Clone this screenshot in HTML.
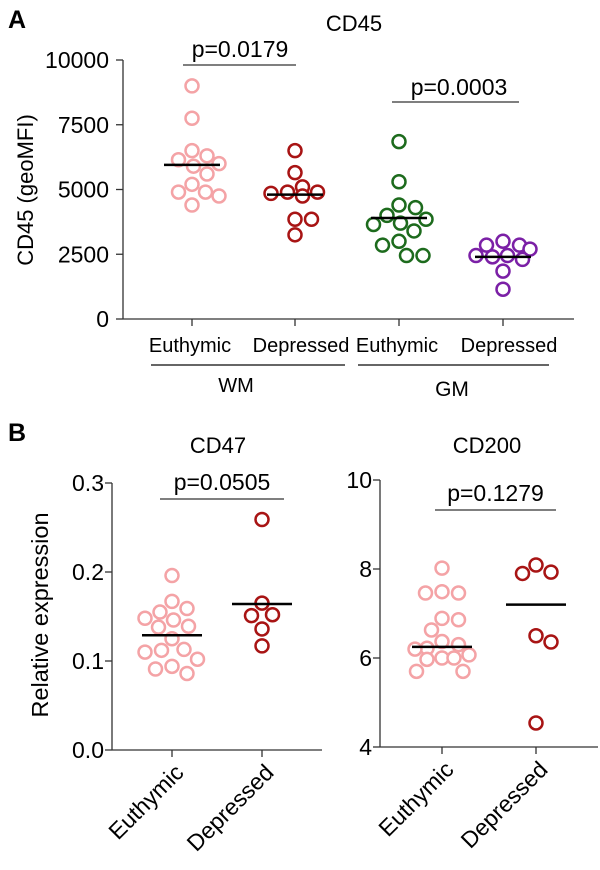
<!DOCTYPE html>
<html><head><meta charset="utf-8"><style>
html,body{margin:0;padding:0;background:#fff;}
svg{display:block;font-family:"Liberation Sans",Arial,sans-serif;}
</style></head><body>
<svg id="fig" width="600" height="870" viewBox="0 0 600 870" xmlns="http://www.w3.org/2000/svg"></svg>
<script>
// Panel A data (CD45 geoMFI)
const aCategories = ["Euthymic","Depressed","Euthymic","Depressed"];
const aGroups = ["WM","GM"];
const aTicks = [0,2500,5000,7500,10000];
const aWMEuthymic = [9000,7750,6500,6300,6150,6000,5900,5600,5200,4900,4900,4750,4400];
const aWMDepressed = [6500,5650,5100,4900,4900,4850,4750,3850,3850,3250];
const aGMEuthymic = [6850,5300,4400,4300,4000,3850,3700,3650,3400,3000,2850,2450,2450];
const aGMDepressed = [3000,2850,2850,2700,2450,2450,2400,2300,1850,1150];
const aMedians = [5950,4800,3900,2400];
const aPValues = ["p=0.0179","p=0.0003"];
// Panel B data
const bCategories = ["Euthymic","Depressed"];
const cd47Ticks = [0.0,0.1,0.2,0.3];
const cd47Euthymic = [0.196,0.167,0.159,0.155,0.148,0.146,0.139,0.138,0.125,0.113,0.112,0.110,0.102,0.094,0.091,0.086];
const cd47Depressed = [0.259,0.165,0.152,0.151,0.136,0.117];
const cd47Medians = [0.129,0.164];
const cd200Ticks = [4,6,8,10];
const cd200Euthymic = [8.02,7.49,7.46,7.46,6.89,6.86,6.63,6.37,6.30,6.22,6.20,6.07,6.00,6.00,5.97,5.70,5.70];
const cd200Depressed = [8.09,7.93,7.90,6.50,6.36,4.54];
const cd200Medians = [6.25,7.2];
const pvalB = ["p=0.0505","p=0.1279"];

const NS="http://www.w3.org/2000/svg";
const svg=document.getElementById('fig');
function mk(tag,attrs,parent){const e=document.createElementNS(NS,tag);for(const k in attrs)e.setAttribute(k,attrs[k]);(parent||svg).appendChild(e);return e;}
function txt(s,attrs,parent){const e=mk('text',attrs,parent);e.textContent=s;return e;}
const PINK="#f4a3a6",DRED="#a81414",GREEN="#1d6b1d",PURPLE="#7b20a6";
const R=6.5;
const GAP=15.5;
const MAXW=28;

function swarm(vals,cx,yf,color,name){
  const placed=[];
  const sorted=vals.slice().sort((a,b)=>b-a);
  sorted.forEach(v=>{
    const y=yf(v);let best=null,bestPen=1e9,bestDx=0;
    const cands=[0];for(let k=1;k*1.5<=MAXW;k++){cands.push(k*1.5,-k*1.5);}
    for(const dx of cands){
      let pen=0;
      for(const p of placed){const ddx=dx-p.dx,ddy=y-p.y;const d=Math.sqrt(ddx*ddx+ddy*ddy);if(d<GAP)pen+=GAP-d;}
      if(pen===0){best=dx;break;}
      if(pen<bestPen){bestPen=pen;bestDx=dx;}
    }
    if(best===null)best=bestDx;
    placed.push({dx:best,y:y});
    const c=mk('circle',{cx:cx+best,cy:y,r:R,fill:'#fff',stroke:color,'stroke-width':2.5});
    
    
  });
}
function median(cx,y,hw,name){
  const l=mk('line',{x1:cx-hw,x2:cx+hw,y1:y,y2:y,stroke:'#000','stroke-width':2.5});
  
  
}

// ---------- Panel A ----------
txt('A',{x:8,y:28,'font-size':25,'font-weight':'bold',});
txt('CD45',{x:354,y:31,'font-size':22,'text-anchor':'middle',});
const aX0=123,aX1=574,aY0=319,aY1=60;
const ay=v=>aY0-(v-0)/(10000-0)*(aY0-aY1);
const aCx=[192,295,399,503];
mk('line',{x1:aX0,x2:aX0,y1:aY1,y2:aY0,stroke:'#333','stroke-width':1.3,});
mk('line',{x1:aX0,x2:aX1,y1:aY0,y2:aY0,stroke:'#333','stroke-width':1.3,});
aTicks.forEach(t=>{
  const y=ay(t);
  const l=mk('line',{x1:aX0-7,x2:aX0,y1:y,y2:y,stroke:'#333','stroke-width':1.3});
  
  const tl=txt(String(t),{x:aX0-14,y:y+8,'font-size':23,'text-anchor':'end'});
  
});
txt('CD45 (geoMFI)',{x:0,y:0,'font-size':22,'text-anchor':'middle',transform:'translate(33,190) rotate(-90)',});
aCategories.forEach((c,i)=>{
  const l=mk('line',{x1:aCx[i],x2:aCx[i],y1:aY0,y2:aY0+7,stroke:'#333','stroke-width':1.3});
  
  const t=txt(c,{x:aCx[i]+(i%2?6:-2),y:352,'font-size':20,'text-anchor':'middle'});
  
});
mk('line',{x1:151,x2:345,y1:365,y2:365,stroke:'#333','stroke-width':1.6,});
mk('line',{x1:358,x2:549,y1:365,y2:365,stroke:'#333','stroke-width':1.6,});
txt(aGroups[0],{x:236,y:392,'font-size':20,'text-anchor':'middle',});
txt(aGroups[1],{x:452,y:396,'font-size':21,'text-anchor':'middle',});
swarm(aWMEuthymic,aCx[0],ay,PINK,'wm-euthymic');
swarm(aWMDepressed,aCx[1],ay,DRED,'wm-depressed');
swarm(aGMEuthymic,aCx[2],ay,GREEN,'gm-euthymic');
swarm(aGMDepressed,aCx[3],ay,PURPLE,'gm-depressed');
aMedians.forEach((m,i)=>median(aCx[i],ay(m),28,'cd45-median-line'));
mk('line',{x1:183,x2:296,y1:65,y2:65,stroke:'#333','stroke-width':1.3,});
txt(aPValues[0],{x:240,y:57,'font-size':23,'text-anchor':'middle',});
mk('line',{x1:392,x2:519,y1:102,y2:102,stroke:'#333','stroke-width':1.3,});
txt(aPValues[1],{x:459,y:95,'font-size':23,'text-anchor':'middle',});

// ---------- Panel B ----------
txt('B',{x:8,y:441,'font-size':25,'font-weight':'bold',});
txt('Relative expression',{x:0,y:0,'font-size':23.5,'text-anchor':'middle',transform:'translate(48,615) rotate(-90)',});

function panelB(opt){
  const yf=v=>opt.y0-(v-opt.min)/(opt.max-opt.min)*(opt.y0-opt.y1);
  mk('line',{x1:opt.x0,x2:opt.x0,y1:opt.y1,y2:opt.y0,stroke:'#333','stroke-width':1.3,});
  mk('line',{x1:opt.x0,x2:opt.x1,y1:opt.y0,y2:opt.y0,stroke:'#333','stroke-width':1.3,});
  opt.ticks.forEach(t=>{
    const y=yf(t);
    const l=mk('line',{x1:opt.x0-7,x2:opt.x0,y1:y,y2:y,stroke:'#333','stroke-width':1.3});
    
    const tl=txt(opt.fmt(t),{x:opt.x0-8,y:y+8,'font-size':23,'text-anchor':'end'});
    
  });
  bCategories.forEach((c,i)=>{
    const cx=opt.cx[i];
    const l=mk('line',{x1:cx,x2:cx,y1:opt.y0,y2:opt.y0+7,stroke:'#333','stroke-width':1.3});
    
    const t=txt(c,{x:0,y:0,'font-size':23,'text-anchor':'end',transform:`translate(${cx+13},${opt.y0+24}) rotate(-45)`});
    
  });
  txt(opt.title,{x:opt.tx,y:453,'font-size':22,'text-anchor':'middle',});
  swarm(opt.eu,opt.cx[0],yf,PINK,opt.name+'-euthymic');
  swarm(opt.de,opt.cx[1],yf,DRED,opt.name+'-depressed');
  opt.med.forEach((m,i)=>median(opt.cx[i],yf(m),30,opt.name+'-median-line'));
  mk('line',{x1:opt.px0,x2:opt.px1,y1:opt.py,y2:opt.py,stroke:'#333','stroke-width':1.3,});
  txt(opt.p,{x:(opt.px0+opt.px1)/2,y:opt.py-9,'font-size':23,'text-anchor':'middle',});
}
panelB({name:'cd47',title:'CD47',tx:218,x0:112,x1:322,y0:750,y1:483,min:0,max:0.3,ticks:cd47Ticks,fmt:t=>t.toFixed(1),
  cx:[172,262],eu:cd47Euthymic,de:cd47Depressed,med:cd47Medians,p:pvalB[0],px0:160,px1:284,py:499});
panelB({name:'cd200',title:'CD200',tx:487,x0:380,x1:598,y0:747,y1:480,min:4,max:10,ticks:cd200Ticks,fmt:t=>String(t),
  cx:[442,536],eu:cd200Euthymic,de:cd200Depressed,med:cd200Medians,p:pvalB[1],px0:435,px1:556,py:510});
</script>
</body></html>
